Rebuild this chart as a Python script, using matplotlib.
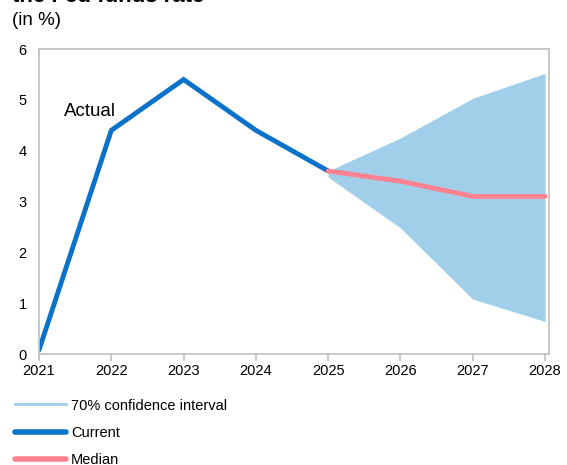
import matplotlib.pyplot as plt
from matplotlib.lines import Line2D

plt.rcParams['font.family'] = ['Liberation Sans', 'DejaVu Sans']

years = [2021, 2022, 2023, 2024, 2025, 2026, 2027, 2028]
actual_years = [2021, 2022, 2023, 2024, 2025]
actual = [0.08, 4.4, 5.4, 4.4, 3.6]
proj_years = [2025, 2026, 2027, 2028]
median = [3.6, 3.4, 3.1, 3.1]
ci_upper = [3.6, 4.25, 5.03, 5.52]
ci_lower = [3.48, 2.48, 1.08, 0.64]

blue = '#0A72C9'
pink = '#FF8290'
band = '#A1CFEA'
grey = '#BFBFBF'

fig = plt.figure(figsize=(5.67, 4.65), dpi=100)
ax = fig.add_axes([0.0688, 0.2387, 0.8995, 0.6559])

ax.fill_between(proj_years, ci_lower, ci_upper, color=band, linewidth=0)
ax.plot(actual_years, actual, color=blue, lw=3.5, solid_capstyle='round', solid_joinstyle='miter')
ax.plot(proj_years, median, color=pink, lw=3.5, solid_capstyle='round', solid_joinstyle='miter')

ax.text(2021.35, 4.78, 'Actual', fontsize=13.5, va='center')

ax.set_xlim(2021, 2028.055)
ax.set_ylim(0, 6)
ax.set_xticks(years)
ax.set_yticks(range(7))
for s in ax.spines.values():
    s.set_color(grey)
    s.set_linewidth(1.2)
ax.tick_params(axis='x', colors=grey, length=5, width=1.2, labelcolor='black', labelsize=10.5, pad=2)
ax.tick_params(axis='y', length=0, labelsize=10.5, pad=9)

fig.text(0.022, 0.985, 'the Fed funds rate', fontsize=16, fontweight='bold', va='bottom')
fig.text(0.022, 0.956, '(in %)', fontsize=13.5, va='center')

handles = [
    Line2D([], [], color=band, lw=2),
    Line2D([], [], color=blue, lw=4, solid_capstyle='round'),
    Line2D([], [], color=pink, lw=4, solid_capstyle='round'),
]
labels = ['70% confidence interval', 'Current', 'Median']
fig.legend(handles, labels, loc='upper left', bbox_to_anchor=(0.026, 0.143),
           frameon=False, fontsize=10.5, handlelength=3.5, handletextpad=0.35,
           labelspacing=0.9, borderaxespad=0, borderpad=0)

fig.savefig('out.png', dpi=100)
